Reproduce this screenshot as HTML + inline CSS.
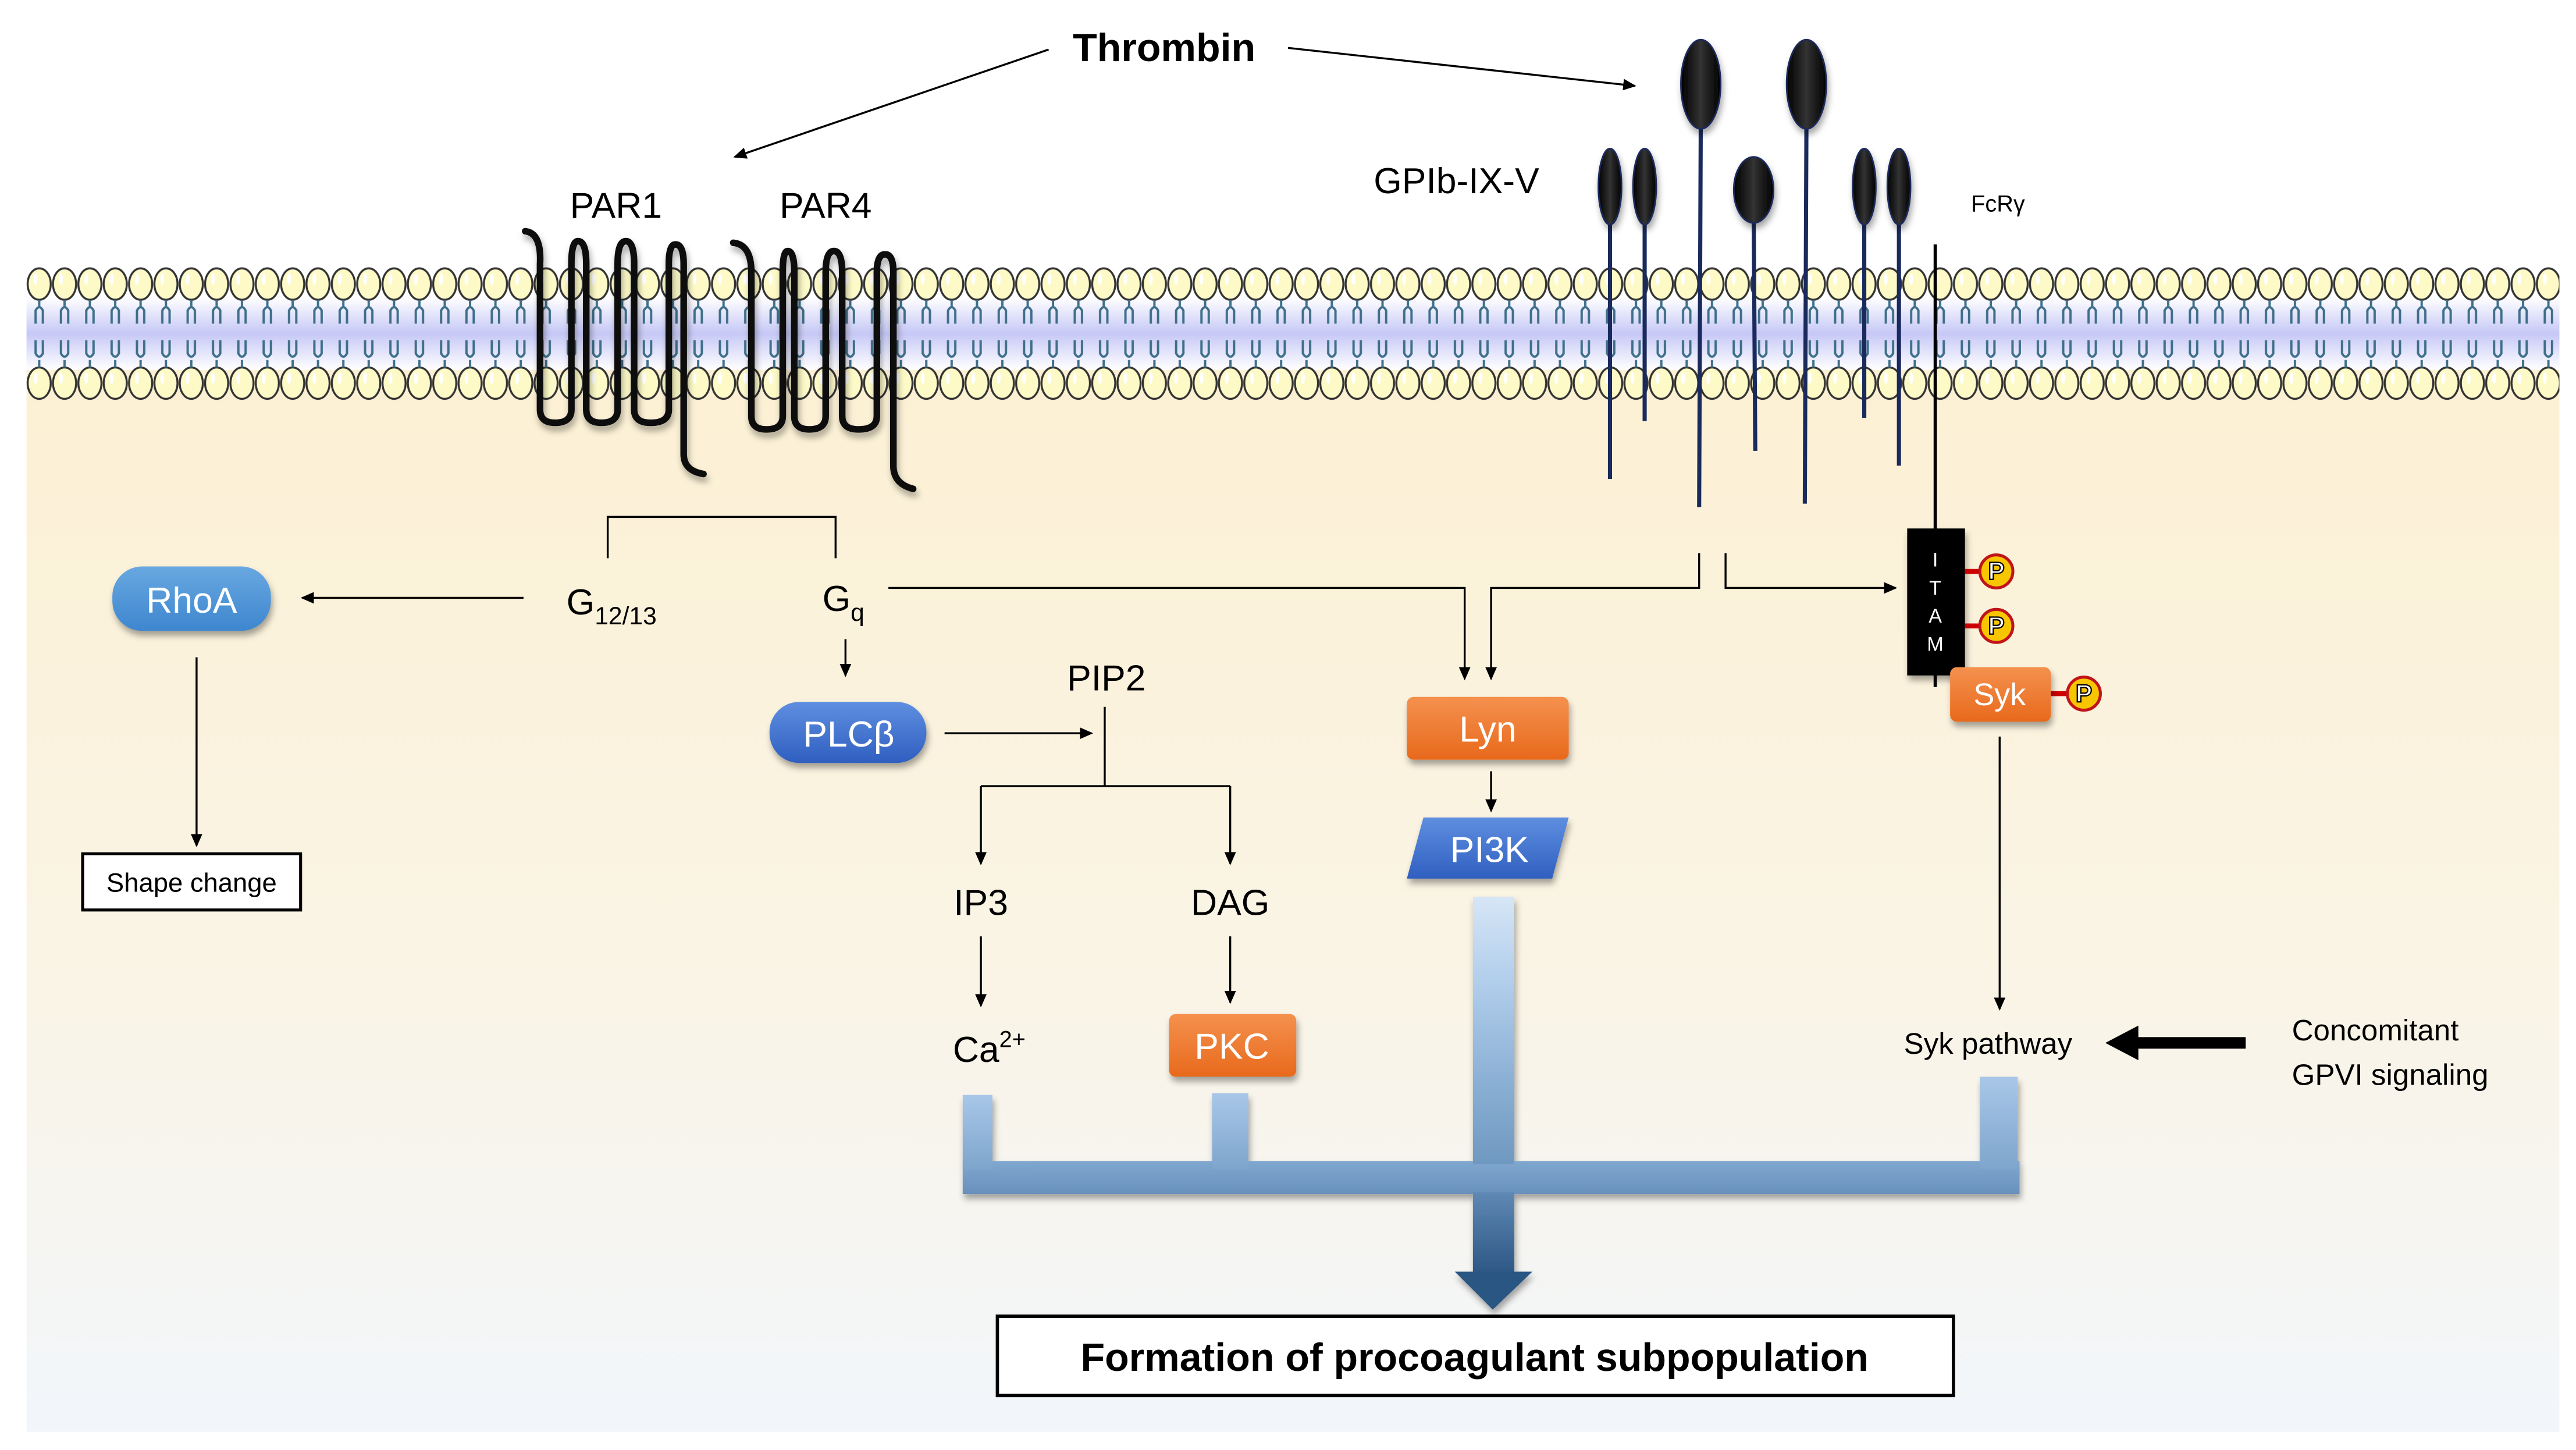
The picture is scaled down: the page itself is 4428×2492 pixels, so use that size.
<!DOCTYPE html>
<html><head><meta charset="utf-8"><style>
html,body{margin:0;padding:0;background:#fff;}
svg{display:block;}
text{font-family:"Liberation Sans",sans-serif;}
</style></head><body>
<svg width="4428" height="2492" viewBox="0 0 1560 878" xmlns="http://www.w3.org/2000/svg">
<defs>
<linearGradient id="cyto" x1="0" y1="0" x2="0" y2="1">
<stop offset="0" stop-color="#fcf0d2"/><stop offset="0.6" stop-color="#faf4e6"/><stop offset="1" stop-color="#f2f6fb"/></linearGradient>
<linearGradient id="band" x1="0" y1="0" x2="0" y2="1">
<stop offset="0" stop-color="#ffffff"/><stop offset="0.5" stop-color="#c6c8f6"/><stop offset="1" stop-color="#ffffff"/></linearGradient>
<pattern id="lip" patternUnits="userSpaceOnUse" x="16" y="150" width="15.35" height="100">
<ellipse cx="7.7" cy="22" rx="7" ry="9.5" fill="#fdfac8" stroke="#333" stroke-width="1.2"/>
<ellipse cx="5.5" cy="19" rx="1.2" ry="3.5" fill="#fff"/>
<ellipse cx="7.7" cy="82" rx="7" ry="9.5" fill="#fdfac8" stroke="#333" stroke-width="1.2"/>
<ellipse cx="5.5" cy="79" rx="1.2" ry="3.5" fill="#fff"/>
<path d="M7.7 31.5V36M5.5 46V38Q7.7 34 9.9 38V46M7.7 72.5V68M5.5 56V64Q7.7 68 9.9 64V56" stroke="#3f6f8a" stroke-width="1.4" fill="none"/>
</pattern>
<linearGradient id="pipe" x1="0" y1="0" x2="0" y2="1">
<stop offset="0" stop-color="#d6e6f6"/><stop offset="0.3" stop-color="#b3cfec"/><stop offset="0.7" stop-color="#8aafd4"/><stop offset="1" stop-color="#6f98c0"/></linearGradient>
<linearGradient id="pipe2" x1="0" y1="0" x2="0" y2="1">
<stop offset="0" stop-color="#a8c7e8"/><stop offset="1" stop-color="#7ea5cc"/></linearGradient>
<linearGradient id="hbar" x1="0" y1="0" x2="0" y2="1">
<stop offset="0" stop-color="#7fa7cf"/><stop offset="1" stop-color="#6890bb"/></linearGradient>
<linearGradient id="arrowg" x1="0" y1="0" x2="0" y2="1">
<stop offset="0" stop-color="#5f88b4"/><stop offset="1" stop-color="#2c5683"/></linearGradient>
<linearGradient id="orange" x1="0" y1="0" x2="0" y2="1">
<stop offset="0" stop-color="#f4914e"/><stop offset="1" stop-color="#e8691c"/></linearGradient>
<linearGradient id="blue1" x1="0" y1="0" x2="0" y2="1">
<stop offset="0" stop-color="#68a8e0"/><stop offset="1" stop-color="#3e86cf"/></linearGradient>
<linearGradient id="blue2" x1="0" y1="0" x2="0" y2="1">
<stop offset="0" stop-color="#5f8ee0"/><stop offset="1" stop-color="#2f5fc0"/></linearGradient>
<linearGradient id="oval" x1="0" y1="0" x2="1" y2="0">
<stop offset="0" stop-color="#000"/><stop offset="0.5" stop-color="#333"/><stop offset="1" stop-color="#000"/></linearGradient>
<marker id="ah" markerWidth="8" markerHeight="8" refX="7" refY="4" orient="auto" markerUnits="userSpaceOnUse"><path d="M0 0.5L8 4L0 7.5z" fill="#000"/></marker>
<filter id="sh" x="-20%" y="-20%" width="140%" height="160%"><feDropShadow dx="1" dy="3" stdDeviation="2" flood-color="#000" flood-opacity="0.35"/></filter>
</defs>
<rect x="16" y="190" width="1534" height="677" fill="url(#cyto)"/>
<rect x="16" y="180" width="1534" height="44" fill="url(#band)"/>
<rect x="16" y="150" width="1534" height="100" fill="url(#lip)"/>

<!-- PAR1 -->
<g fill="none" stroke="#111" stroke-width="4" filter="url(#sh)" stroke-linecap="round">
<path d="M318 140Q328 141 327 160V248Q327 256 336 256Q346 256 346 248V160Q346 146 350 146Q355 146 355 160V248Q355 256 364 256Q374 256 374 248V160Q374 146 379 146Q384 146 384 160V248Q384 256 394 256Q405 256 405 248V160Q405 148 409 148Q414 148 414 160V275Q414 285 426 287"/>
<path d="M444 147Q455 148 455 165V252Q455 260 464 260Q474 260 474 252V165Q474 152 477 152Q481 152 481 165V252Q481 260 490 260Q500 260 500 252V165Q500 152 505 152Q510 152 510 165V252Q510 260 520 260Q531 260 531 252V165Q531 154 536 154Q541 154 541 165V282Q541 293 553 296"/>
</g>

<!-- GPIb stalks -->
<g stroke="#1a2a5c" stroke-width="2.5">
<line x1="975" y1="120" x2="975" y2="290"/><line x1="996" y1="120" x2="996" y2="255"/>
<line x1="1030" y1="70" x2="1029" y2="307"/><line x1="1062" y1="125" x2="1063" y2="273"/>
<line x1="1094" y1="70" x2="1093" y2="305"/><line x1="1129" y1="120" x2="1129" y2="253"/>
<line x1="1150" y1="120" x2="1150" y2="282"/>
</g>
<g fill="url(#oval)" stroke="#1a2a5c" stroke-width="1" filter="url(#sh)">
<ellipse cx="975" cy="113" rx="7" ry="23"/><ellipse cx="996" cy="113" rx="7" ry="23"/>
<ellipse cx="1030" cy="51" rx="12" ry="27"/><ellipse cx="1094" cy="51" rx="12" ry="27"/>
<ellipse cx="1062" cy="115" rx="12" ry="20"/>
<ellipse cx="1129" cy="113" rx="7" ry="23"/><ellipse cx="1150" cy="113" rx="7" ry="23"/>
</g>
<line x1="1172" y1="148" x2="1172" y2="416" stroke="#000" stroke-width="2"/>

<!-- ITAM -->
<rect x="1155" y="320" width="35" height="89" fill="#000" filter="url(#sh)"/>
<g fill="#fff" font-size="12" text-anchor="middle"><text x="1172" y="343">I</text><text x="1172" y="360">T</text><text x="1172" y="377">A</text><text x="1172" y="394">M</text></g>
<g stroke="#c00" stroke-width="3"><line x1="1190" y1="346" x2="1200" y2="346"/><line x1="1190" y1="379" x2="1200" y2="379"/><line x1="1242" y1="420" x2="1252" y2="420"/></g>
<g filter="url(#sh)">
<rect x="1181" y="404" width="61" height="33" rx="4" fill="url(#orange)"/>
</g>
<g fill="#f7c600" stroke="#c0141a" stroke-width="1.8">
<circle cx="1209" cy="346" r="10"/><circle cx="1209" cy="379" r="10"/><circle cx="1262" cy="420" r="10"/></g>
<g font-size="15" font-weight="bold" text-anchor="middle" fill="#fff" stroke="#000" stroke-width="0.8"><text x="1209" y="351">P</text><text x="1209" y="384">P</text><text x="1262" y="425">P</text></g>
<text x="1211" y="427" font-size="19" fill="#fff" text-anchor="middle">Syk</text>

<!-- Nodes -->
<g filter="url(#sh)">
<rect x="68" y="343" width="96" height="39" rx="18" fill="url(#blue1)"/>
<rect x="466" y="425" width="95" height="37" rx="18" fill="url(#blue2)"/>
<rect x="852" y="422" width="98" height="38" rx="4" fill="url(#orange)"/>
<path d="M862 495H950L940 532H852Z" fill="url(#blue2)"/>
<rect x="708" y="614" width="77" height="38" rx="4" fill="url(#orange)"/>
</g>
<g fill="#fff" font-size="22" text-anchor="middle">
<text x="116" y="371">RhoA</text><text x="514" y="452">PLCβ</text><text x="901" y="449">Lyn</text><text x="902" y="522">PI3K</text><text x="746" y="641">PKC</text>
</g>

<!-- Pipe -->
<g filter="url(#sh)">
<rect x="583" y="703" width="640" height="20" fill="url(#hbar)"/>
<rect x="583" y="663" width="18" height="45" fill="url(#pipe2)"/>
<rect x="734" y="662" width="22" height="46" fill="url(#pipe2)"/>
<rect x="1199" y="652" width="23" height="56" fill="url(#pipe2)"/>
<rect x="892" y="543" width="25" height="162" fill="url(#pipe)"/>
<rect x="892" y="722" width="25" height="50" fill="url(#arrowg)"/>
<path d="M881 770H928L904 793Z" fill="#2c5683"/>
</g>

<!-- Boxes -->
<rect x="50" y="517" width="132" height="34" fill="#fff" stroke="#000" stroke-width="1.8"/>
<text x="116" y="540" font-size="16" text-anchor="middle">Shape change</text>
<rect x="604" y="797" width="579" height="48" fill="#fff" stroke="#000" stroke-width="2"/>
<text x="893" y="830" font-size="24" font-weight="bold" text-anchor="middle">Formation of procoagulant subpopulation</text>

<!-- Connectors -->
<g fill="none" stroke="#000" stroke-width="1.2">
<path d="M635 30L445 95" marker-end="url(#ah)"/>
<path d="M780 29L990 52" marker-end="url(#ah)"/>
<path d="M368 338V313H506V338"/>
<path d="M317 362H183" marker-end="url(#ah)"/>
<path d="M119 398V512" marker-end="url(#ah)"/>
<path d="M512 387V409" marker-end="url(#ah)"/>
<path d="M538 356H887V411" marker-end="url(#ah)"/>
<path d="M1029 335V356H903V411" marker-end="url(#ah)"/>
<path d="M1045 335V356H1148" marker-end="url(#ah)"/>
<path d="M572 444H661" marker-end="url(#ah)"/>
<path d="M669 428V476"/>
<path d="M594 476H745"/>
<path d="M594 476V523" marker-end="url(#ah)"/>
<path d="M745 476V523" marker-end="url(#ah)"/>
<path d="M594 567V609" marker-end="url(#ah)"/>
<path d="M745 567V607" marker-end="url(#ah)"/>
<path d="M903 467V491" marker-end="url(#ah)"/>
<path d="M1211 446V611" marker-end="url(#ah)"/>
</g>
<path d="M1360 628V635H1295V642L1275 631.5L1295 621V628Z" fill="#000"/>

<!-- Labels -->
<text x="705" y="37" font-size="24" font-weight="bold" text-anchor="middle">Thrombin</text>
<text x="373" y="132" font-size="22" text-anchor="middle">PAR1</text>
<text x="500" y="132" font-size="22" text-anchor="middle">PAR4</text>
<text x="882" y="117" font-size="22" text-anchor="middle">GPIb-IX-V</text>
<text x="1210" y="128" font-size="14" text-anchor="middle">FcRγ</text>
<text x="343" y="372" font-size="22">G<tspan font-size="15" dy="6">12/13</tspan></text>
<text x="498" y="370" font-size="22">G<tspan font-size="15" dy="6">q</tspan></text>
<text x="670" y="418" font-size="22" text-anchor="middle">PIP2</text>
<text x="594" y="554" font-size="22" text-anchor="middle">IP3</text>
<text x="745" y="554" font-size="22" text-anchor="middle">DAG</text>
<text x="577" y="643" font-size="22">Ca<tspan font-size="14" dy="-9">2+</tspan></text>
<text x="1204" y="638" font-size="18" text-anchor="middle">Syk pathway</text>
<text x="1388" y="630" font-size="18">Concomitant</text>
<text x="1388" y="657" font-size="18">GPVI signaling</text>
</svg>
</body></html>
